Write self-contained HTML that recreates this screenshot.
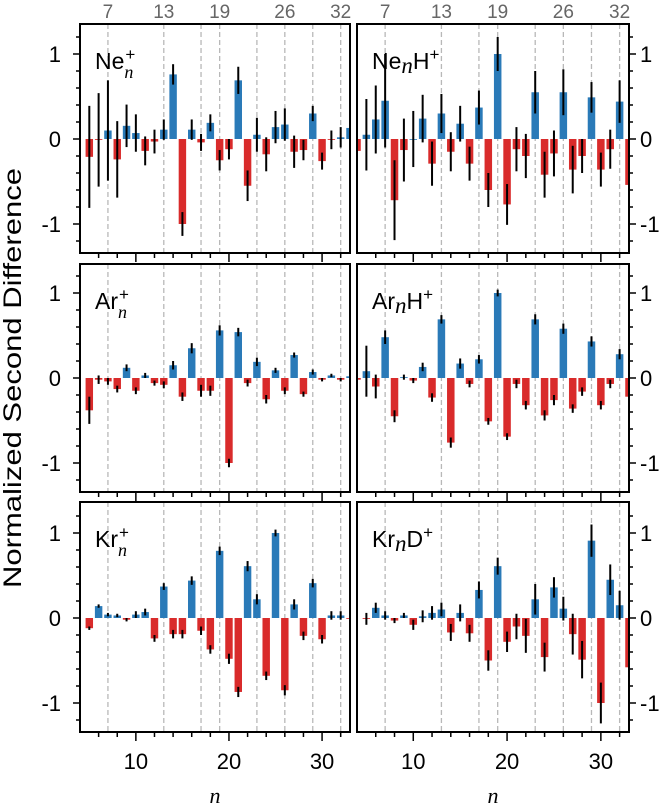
<!DOCTYPE html>
<html><head><meta charset="utf-8">
<style>
html,body{margin:0;padding:0;background:#fff;}
svg{display:block;font-family:"Liberation Sans","DejaVu Sans",sans-serif;}
</style></head>
<body>
<svg id="chart" width="672" height="809" viewBox="0 0 672 809" xmlns="http://www.w3.org/2000/svg">
<text transform="translate(21,378) rotate(-90)" text-anchor="middle" font-size="25" textLength="420" lengthAdjust="spacingAndGlyphs" fill="#000">Normalized Second Difference</text>
</svg>
<script>
const nCats = [4,5,6,7,8,9,10,11,12,13,14,15,16,17,18,19,20,21,22,23,24,25,26,27,28,29,30,31,32,33];
const neVals = [null,-0.21,-0.01,0.10,-0.24,0.155,0.07,-0.14,-0.03,0.11,0.76,-1.0,0.11,-0.04,0.19,-0.25,-0.12,0.69,-0.55,0.05,-0.18,0.14,0.17,-0.15,-0.13,0.30,-0.26,-0.01,0.02,0.13];
const neErr  = [0,0.6,0.55,0.59,0.45,0.25,0.22,0.17,0.14,0.12,0.12,0.14,0.12,0.1,0.1,0.12,0.12,0.16,0.18,0.2,0.2,0.19,0.19,0.19,0.12,0.09,0.1,0.11,0.12,0.1];
const nehVals = [-0.14,0.05,0.23,0.45,-0.72,-0.13,0.0,0.24,-0.29,0.30,-0.15,0.18,-0.29,0.37,-0.6,1.0,-0.77,-0.12,-0.2,0.55,-0.42,-0.17,0.55,-0.36,-0.2,0.49,-0.36,-0.12,0.44,-0.54];
const nehErr  = [0,0.42,0.4,0.55,0.47,0.37,0.33,0.28,0.26,0.23,0.23,0.21,0.2,0.2,0.2,0.2,0.24,0.26,0.26,0.25,0.27,0.27,0.27,0.28,0.2,0.18,0.2,0.23,0.25,0];
const arVals = [null,-0.38,-0.02,-0.04,-0.13,0.12,-0.15,0.03,-0.06,-0.08,0.15,-0.22,0.35,-0.15,-0.15,0.56,-1.0,0.54,-0.06,0.19,-0.25,0.09,-0.15,0.27,-0.19,0.07,-0.02,0.03,-0.02,0.02];
const arErr  = [0,0.16,0.05,0.04,0.04,0.04,0.04,0.03,0.03,0.04,0.05,0.05,0.06,0.07,0.06,0.06,0.05,0.05,0.04,0.05,0.05,0.03,0.04,0.03,0.03,0.03,0.02,0.02,0.02,0];
const arhVals = [-0.02,0.08,-0.1,0.48,-0.45,0.01,-0.03,0.13,-0.23,0.69,-0.76,0.17,-0.07,0.22,-0.51,1.0,-0.69,-0.07,-0.32,0.69,-0.44,-0.26,0.58,-0.36,-0.16,0.43,-0.32,-0.07,0.28,-0.22];
const arhErr  = [0,0.3,0.14,0.08,0.07,0.03,0.03,0.05,0.05,0.05,0.06,0.06,0.04,0.05,0.04,0.04,0.04,0.05,0.05,0.06,0.06,0.06,0.06,0.05,0.05,0.06,0.05,0.05,0.06,0];
const krVals = [null,-0.12,0.14,0.04,0.03,-0.02,0.04,0.07,-0.24,0.37,-0.19,-0.19,0.44,-0.15,-0.37,0.79,-0.48,-0.87,0.61,0.22,-0.68,1.0,-0.85,0.16,-0.21,0.41,-0.25,0.03,0.03,-0.01];
const krErr  = [0,0.02,0.02,0.02,0.02,0.02,0.04,0.04,0.04,0.04,0.05,0.05,0.05,0.05,0.05,0.05,0.06,0.06,0.06,0.06,0.05,0.04,0.06,0.06,0.05,0.05,0.05,0.05,0.05,0];
const krdVals = [null,-0.01,0.12,0.03,-0.03,0.03,-0.08,0.02,0.06,0.1,-0.17,0.06,-0.18,0.33,-0.5,0.61,-0.28,-0.1,-0.21,0.22,-0.46,0.36,0.11,-0.19,-0.49,0.91,-1.0,0.45,0.15,-0.58];
const krdErr  = [0,0.07,0.06,0.05,0.03,0.03,0.06,0.07,0.08,0.08,0.1,0.1,0.1,0.1,0.12,0.1,0.12,0.15,0.2,0.18,0.17,0.12,0.14,0.24,0.22,0.19,0.24,0.18,0.17,0];
const dashN = [7,13,17,19,23,26,29,32];
const topLabels = ["7","13","19","26","32"];
const topLabelN = [7,13,19,26,32];
const xTickLabels = [10,20,30];
const yTickLabels = [-1,0,1];

const svg = document.getElementById('chart');
const NS = 'http://www.w3.org/2000/svg';
const cols = [[80,350],[357,629]];
const rows = [[24,253,139],[264,492,378],[502,732,618]];
const XMIN = 4, XMAX = 33, UNIT = 85;
const panels = [
 {r:0,c:0,vals:neVals,err:neErr,name:'ne',t:['Ne','+','n','']},
 {r:0,c:1,vals:nehVals,err:nehErr,name:'neh',t:['Ne','','n','H+']},
 {r:1,c:0,vals:arVals,err:arErr,name:'ar',t:['Ar','+','n','']},
 {r:1,c:1,vals:arhVals,err:arhErr,name:'arh',t:['Ar','','n','H+']},
 {r:2,c:0,vals:krVals,err:krErr,name:'kr',t:['Kr','+','n','']},
 {r:2,c:1,vals:krdVals,err:krdErr,name:'krd',t:['Kr','','n','D+']}
];
function mk(tag, attrs, parent){
  const e = document.createElementNS(NS, tag);
  for (const k in attrs) e.setAttribute(k, attrs[k]);
  (parent||svg).appendChild(e);
  return e;
}
panels.forEach((p,i)=>{
  const [x0,x1] = cols[p.c];
  const [yt,yb,y0] = rows[p.r];
  const sx = n => x0 + (n - XMIN) * (x1 - x0) / (XMAX - XMIN);
  const sy = v => y0 - v * UNIT;
  const g = mk('g', {});
  
  
  const cp = mk('clipPath', {id:'cp'+i}, g);
  mk('rect', {x:x0, y:yt, width:x1-x0, height:yb-yt}, cp);
  const inner = mk('g', {'clip-path':'url(#cp'+i+')'}, g);
  dashN.forEach(n=>{
    const l = mk('line', {x1:sx(n), x2:sx(n), y1:yt, y2:yb, stroke:'#b8b8b8', 'stroke-width':1.3, 'stroke-dasharray':'5,3'}, inner);
    
    
  });
  const bw = 0.8 * (x1 - x0) / (XMAX - XMIN);
  nCats.forEach((n,k)=>{
    const v = p.vals[k];
    if (v === null || v === undefined) return;
    const b = mk('rect', {x:sx(n)-bw/2, y:Math.min(sy(v),y0), width:bw, height:Math.max(Math.abs(sy(v)-y0),0.8), fill: v>=0 ? '#2a7ab8' : '#d92b2b'}, inner);
    
    
    const e = p.err[k];
    if (e > 0) {
      const eb = mk('line', {x1:sx(n), x2:sx(n), y1:sy(v+e), y2:sy(v-e), stroke:'#000', 'stroke-width':2}, inner);
      
      
    }
  });
  const fr = mk('rect', {x:x0, y:yt, width:x1-x0, height:yb-yt, fill:'none', stroke:'#000', 'stroke-width':2}, g);
  
  
  for (let t=-12; t<=12; t+=2){
    const v = t/10, major = (t%10===0);
    const len = major ? 7 : 4;
    const xa = p.c===0 ? x0 : x1;
    const dir = p.c===0 ? -1 : 1;
    mk('line', {x1:xa, x2:xa+dir*len, y1:sy(v), y2:sy(v), stroke:'#000', 'stroke-width':1.5}, g);
  }
  yTickLabels.forEach(v=>{
    const tx = mk('text', {x: p.c===0 ? 61 : 640, y: sy(v)+8, 'font-size':22, 'text-anchor': p.c===0 ? 'end' : 'start', fill:'#000'}, g);
    tx.textContent = v===-1 ? '-1' : String(v);
    
    
  });
  for (let n=6; n<=32; n+=2){
    const major = (n%10===0);
    mk('line', {x1:sx(n), x2:sx(n), y1:yb, y2:yb+(major?9:5), stroke:'#000', 'stroke-width':1.5}, g);
  }
  if (p.r===2){
    xTickLabels.forEach(n=>{
      const tx = mk('text', {x:sx(n), y:769, 'font-size':22, 'text-anchor':'middle', fill:'#000'}, g);
      tx.textContent = String(n);
      
      
    });
    const xl = mk('text', {x:(x0+x1)/2, y:803, 'font-size':22, 'font-style':'italic', 'text-anchor':'middle', 'font-family':'"Liberation Serif",serif'}, g);
    xl.textContent = 'n';
    
    
  }
  if (p.r===0){
    topLabelN.forEach((n,k)=>{
      const tx = mk('text', {x:sx(n), y:18, 'font-size':19, 'text-anchor':'middle', fill:'#666'}, g);
      tx.textContent = topLabels[k];
      
      
    });
  }
  const tt = mk('text', {x:x0+15, y:yt+45, 'font-size':23, fill:'#000'}, g);
  
  
  const [el, sup, sub, tail] = p.t;
  if (sup) {
    tt.innerHTML = el + '<tspan dx="1" dy="-9" font-size="17">+</tspan><tspan dx="-11" dy="18" font-size="18" font-style="italic" font-family="Liberation Serif, serif">n</tspan>';
  } else {
    tt.innerHTML = el + '<tspan font-style="italic" font-family="Liberation Serif, serif" dy="4">n</tspan><tspan dy="-4">' + tail.slice(0,1) + '</tspan><tspan dy="-9" font-size="17">+</tspan>';
  }
});
</script>
</body></html>
